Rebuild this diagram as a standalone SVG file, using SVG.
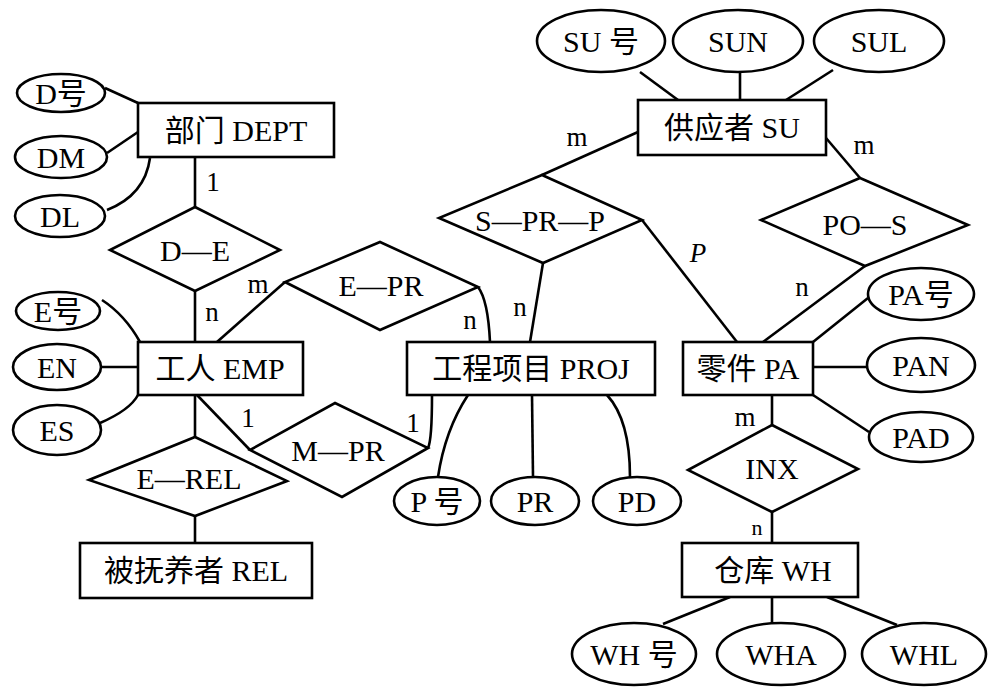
<svg xmlns="http://www.w3.org/2000/svg" width="988" height="689" viewBox="0 0 988 689">
<style>
rect, ellipse, polygon { fill: #fff; stroke: #000; stroke-width: 2.6; }
.c path, .c line { fill: none; stroke: #000; stroke-width: 2.6; }
text { font-family: "Liberation Serif", "Times New Roman", "DejaVu Serif", "Noto Sans CJK SC", serif; font-size: 30px; fill: #000; text-anchor: middle; dominant-baseline: central; }
.lb { font-size: 27px; }
.sm { font-size: 22px; }
</style>
<rect width="988" height="689" style="fill:#fff;stroke:none"/>
<g class="c" id="connectors">
  <line x1="105" y1="88" x2="138" y2="103"/>
  <line x1="107" y1="153" x2="138" y2="132"/>
  <path d="M107,210 Q145,195 150,158"/>
  <line x1="195" y1="157" x2="195" y2="207"/>
  <line x1="195" y1="291" x2="195" y2="342"/>
  <path d="M102,300 Q125,315 140,342"/>
  <line x1="101" y1="367" x2="138" y2="367"/>
  <path d="M100,423 Q130,410 138,395"/>
  <line x1="217" y1="342" x2="285" y2="282"/>
  <path d="M478,287 Q488,300 490,342"/>
  <line x1="195" y1="395" x2="195" y2="437"/>
  <line x1="195" y1="516" x2="195" y2="543"/>
  <line x1="197" y1="395" x2="250" y2="450"/>
  <path d="M432,395 Q432,440 428,448"/>
  <path d="M468,395 Q445,430 438,477"/>
  <line x1="532" y1="395" x2="533" y2="477"/>
  <path d="M607,395 Q630,420 630,477"/>
  <line x1="640" y1="72" x2="678" y2="100"/>
  <line x1="740" y1="72" x2="740" y2="100"/>
  <line x1="833" y1="70" x2="786" y2="100"/>
  <line x1="638" y1="132" x2="542" y2="175"/>
  <line x1="826" y1="138" x2="860" y2="178"/>
  <line x1="543" y1="263" x2="530" y2="342"/>
  <line x1="642" y1="220" x2="737" y2="342"/>
  <line x1="865" y1="266" x2="763" y2="342"/>
  <line x1="813" y1="342" x2="868" y2="298"/>
  <line x1="813" y1="367" x2="868" y2="367"/>
  <line x1="813" y1="395" x2="869" y2="432"/>
  <line x1="772" y1="395" x2="772" y2="425"/>
  <line x1="772" y1="512" x2="772" y2="543"/>
  <line x1="730" y1="597" x2="663" y2="624"/>
  <line x1="772" y1="597" x2="772" y2="623"/>
  <line x1="827" y1="597" x2="897" y2="625"/>
  <text class="lb" x="213" y="182">1</text>
  <text class="lb" x="212" y="312">n</text>
  <text class="lb" x="258" y="284">m</text>
  <text class="lb" x="470" y="320">n</text>
  <text class="lb" x="248" y="418">1</text>
  <text class="lb" x="413" y="423">1</text>
  <text class="lb" x="577" y="137">m</text>
  <text class="lb" x="520" y="307">n</text>
  <text class="lb" x="698" y="253" font-style="italic">P</text>
  <text class="lb" x="864" y="145">m</text>
  <text class="lb" x="802" y="287">n</text>
  <text class="lb" x="745" y="417">m</text>
  <text class="sm" x="757" y="527">n</text>
</g>
<g id="dept"><rect x="138" y="103" width="196" height="54"/><text x="236" y="130">部门 DEPT</text></g>
<g id="d_no"><ellipse cx="61" cy="93" rx="44" ry="19"/><text x="61" y="93">D号</text></g>
<g id="dm"><ellipse cx="61" cy="157" rx="46" ry="21"/><text x="61" y="157">DM</text></g>
<g id="dl"><ellipse cx="60" cy="216" rx="45" ry="21"/><text x="60" y="216">DL</text></g>
<g id="d_e"><polygon points="195,207 280,250 195,291 110,250"/><text x="195" y="250">D—E</text></g>
<g id="emp"><rect x="138" y="342" width="165" height="53"/><text x="220" y="368">工人 EMP</text></g>
<g id="e_no"><ellipse cx="58" cy="311" rx="42" ry="19"/><text x="58" y="311">E号</text></g>
<g id="en"><ellipse cx="57" cy="367" rx="44" ry="23"/><text x="57" y="367">EN</text></g>
<g id="es"><ellipse cx="57" cy="430" rx="44" ry="25"/><text x="57" y="430">ES</text></g>
<g id="e_pr"><polygon points="380,242 478,287 380,330 285,282"/><text x="381" y="285">E—PR</text></g>
<g id="m_pr"><polygon points="335,403 428,448 342,497 250,450"/><text x="338" y="450">M—PR</text></g>
<g id="e_rel"><polygon points="195,437 287,481 195,516 89,480"/><text x="189" y="478">E—REL</text></g>
<g id="rel"><rect x="80" y="543" width="232" height="55"/><text x="196" y="570">被抚养者 REL</text></g>
<g id="proj"><rect x="407" y="342" width="248" height="53"/><text x="531" y="368">工程项目 PROJ</text></g>
<g id="p_no"><ellipse cx="437" cy="501" rx="43" ry="24"/><text x="437" y="501">P 号</text></g>
<g id="pr"><ellipse cx="535" cy="501" rx="44" ry="24"/><text x="535" y="501">PR</text></g>
<g id="pd"><ellipse cx="637" cy="501" rx="44" ry="24"/><text x="637" y="501">PD</text></g>
<g id="su"><rect x="638" y="100" width="188" height="55"/><text x="732" y="127">供应者 SU</text></g>
<g id="su_no"><ellipse cx="601" cy="41" rx="64" ry="31"/><text x="601" y="41">SU 号</text></g>
<g id="sun"><ellipse cx="738" cy="41" rx="65" ry="31"/><text x="738" y="41">SUN</text></g>
<g id="sul"><ellipse cx="879" cy="41" rx="65" ry="31"/><text x="879" y="41">SUL</text></g>
<g id="s_pr_p"><polygon points="542,175 642,220 543,263 439,218"/><text x="540" y="220">S—PR—P</text></g>
<g id="po_s"><polygon points="860,178 968,225 865,266 761,220"/><text x="865" y="224">PO—S</text></g>
<g id="pa"><rect x="683" y="342" width="130" height="53"/><text x="748" y="368">零件 PA</text></g>
<g id="pa_no"><ellipse cx="921" cy="294" rx="53" ry="26"/><text x="921" y="294">PA号</text></g>
<g id="pan"><ellipse cx="921" cy="365" rx="54" ry="27"/><text x="921" y="365">PAN</text></g>
<g id="pad"><ellipse cx="921" cy="437" rx="52" ry="25"/><text x="921" y="437">PAD</text></g>
<g id="inx"><polygon points="772,425 858,469 772,512 688,470"/><text x="772" y="468">INX</text></g>
<g id="wh"><rect x="682" y="543" width="176" height="54"/><text x="773" y="570">仓库 WH</text></g>
<g id="wh_no"><ellipse cx="634" cy="654" rx="62" ry="31"/><text x="634" y="654">WH 号</text></g>
<g id="wha"><ellipse cx="781" cy="654" rx="64" ry="31"/><text x="781" y="654">WHA</text></g>
<g id="whl"><ellipse cx="924" cy="654" rx="62" ry="31"/><text x="924" y="654">WHL</text></g>
</svg>
